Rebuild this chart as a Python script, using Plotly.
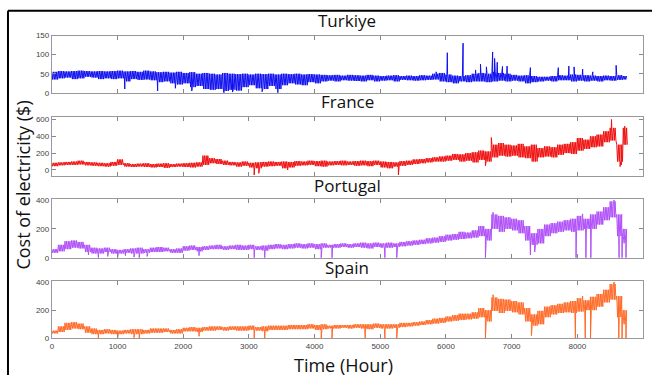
import plotly.graph_objects as go

# ---------------- data ----------------
bin_hours = list(range(0, 8800, 100))  # 88 bins, 100 h each
end_hour = 8760

tur_hi = [55,57,56,57,58,57,56,57,56,57, 58,56,57,55,58,56,54,55,53,55,
          52,54,50,52,50,48,52,50,49,50, 48,50,49,50,48,50,49,50,48,49,
          48,47,46,47,45,47,46,45,47,45, 44,45,46,44,45,44,46,45,50,52,
          48,45,44,46,50,52,50,55,52,50, 47,45,46,44,42,42,44,46,45,48,
          47,46,45,44,45,44,46,44]
tur_lo = [35,38,40,36,38,42,40,36,38,36, 38,30,36,34,35,33,28,30,25,22,
          25,15,18,10,8,10,5,8,6,15, 20,12,10,18,10,20,25,22,20,28,
          25,30,32,30,33,32,31,30,33,30, 32,33,30,34,33,32,33,34,35,30,
          28,25,30,28,30,30,28,30,32,30, 32,30,25,28,30,32,30,33,33,30,
          32,30,32,30,33,32,34,35]
tur_spk_h = [1110,1610,1880,2130,2620,2750,3200,3440,
             5850,6020,6260,6450,6525,6615,6710,6740,6780,6860,6930,7285,7710,7870,7950,8080,8235,8590]
tur_spk_v = [10,5,12,5,0,2,3,0,
             55,105,130,60,75,68,107,90,80,69,70,66,66,70,68,62,55,72]

fra_hi = [85,90,95,100,110,95,90,85,80,95, 125,80,70,75,80,70,75,80,70,75,
          80,85,90,170,140,130,110,95,90,100, 85,90,95,100,95,100,95,105,100,110,
          105,110,100,105,110,100,105,110,105,110, 100,95,90,105,110,125,130,140,150,160,
          170,190,185,200,210,230,220,300,320,300, 290,310,280,300,260,280,270,300,310,330,
          380,360,400,420,460,500,300,500]
fra_lo = [45,55,60,60,65,55,50,45,40,50, 60,40,35,40,35,30,35,25,35,40,
          35,30,40,60,80,70,60,55,40,50, 30,20,40,45,50,20,30,50,55,60,
          45,40,55,60,55,60,50,55,45,60, 30,20,40,50,60,70,80,90,100,100,
          110,120,100,110,90,120,100,150,170,160, 170,150,140,100,150,160,150,180,200,190,
          230,250,270,280,330,350,100,300]
fra_spk_h = [3080,3150,3590,5275,6600,6690,8520,8560,8620,8650,8670,8700,8720,8740,8760]
fra_spk_v = [-60,-40,0,-58,50,385,600,450,200,40,60,480,520,350,300]

por_hi = [60,90,115,120,110,90,70,65,70,60, 55,60,65,70,60,70,75,70,60,65,
          80,85,75,80,85,90,80,85,90,85, 90,80,85,90,95,90,95,100,95,100,
          95,100,90,95,100,95,100,105,100,105, 100,105,100,110,115,120,125,135,140,150,
          160,165,180,175,190,220,200,300,290,280, 270,260,220,170,200,230,240,250,260,270,
          290,270,300,320,350,390,300,200]
por_lo = [35,45,60,70,65,40,30,30,40,30, 30,35,30,30,35,40,40,45,35,35,
          50,55,45,55,60,60,55,60,55,55, 60,55,50,60,65,60,65,70,65,70,
          60,70,70,70,75,70,75,70,65,75, 70,70,75,80,85,90,95,100,105,110,
          120,125,130,135,140,150,120,200,180,200, 190,170,120,90,100,150,170,180,190,180,
          190,200,200,230,260,280,150,100]
por_spk_h = [557,708,850,1000,1120,1250,1330,1450,2240,3080,3240,4100,4265,5070,5250,
             6600,6715,7285,7350,7980,8080,8130,8205,8560,8635,8680,8700,8740]
por_spk_v = [20,0,10,0,15,5,0,10,15,0,0,0,0,0,0,
             0,315,20,40,0,304,0,0,400,0,0,150,0]

spa_hi = [55,85,110,115,105,85,70,60,65,60, 55,60,65,65,60,70,70,70,60,65,
          75,80,75,80,85,85,80,85,85,85, 90,80,85,90,90,90,95,95,95,100,
          95,100,90,95,95,95,100,100,100,105, 100,100,100,110,110,115,120,130,140,145,
          155,165,175,175,185,215,200,290,280,275, 265,255,215,170,195,225,235,245,255,265,
          285,270,295,315,345,385,300,200]
spa_lo = [35,45,60,70,65,40,30,30,35,30, 30,35,30,30,35,40,40,45,35,35,
          50,50,45,55,55,60,55,60,55,55, 60,55,50,60,60,60,65,65,65,70,
          60,65,70,70,75,70,75,70,65,75, 70,70,75,80,85,90,95,100,105,110,
          120,125,130,135,140,150,120,195,180,195, 185,170,120,90,100,150,170,180,185,180,
          190,200,200,225,255,275,150,100]
spa_spk_h = [708,1000,1250,1330,2240,3080,3240,4100,4265,4770,5070,5250,
             6600,6715,7300,7970,8080,8120,8200,8560,8630,8680,8700,8740]
spa_spk_v = [0,0,5,0,15,0,0,0,0,0,0,0,
             0,310,20,0,300,0,0,400,0,0,150,0]

countries = ["Turkiye", "France", "Portugal", "Spain"]
colors = ["#1010F0", "#F01010", "#B050F8", "#FF6A28"]
x_ticks = [0, 1000, 2000, 3000, 4000, 5000, 6000, 7000, 8000, 9000]
y_ticks = [[0, 50, 100, 150], [0, 200, 400, 600], [0, 200, 400], [0, 200, 400]]
y_ranges = [[0, 150], [-70, 630], [0, 405], [0, 405]]

series = [(tur_hi, tur_lo, tur_spk_h, tur_spk_v),
          (fra_hi, fra_lo, fra_spk_h, fra_spk_v),
          (por_hi, por_lo, por_spk_h, por_spk_v),
          (spa_hi, spa_lo, spa_spk_h, spa_spk_v)]


def build(hi, lo, sh, sv):
    pts = []
    for b, h0 in enumerate(bin_hours):
        for k in range(8):
            h = h0 + k * 12.5
            if h > end_hour:
                break
            pts.append((h, hi[b] if k % 2 == 0 else lo[b]))
    pts += [(h + 0.5, v) for h, v in zip(sh, sv)]
    pts.sort(key=lambda p: p[0])
    return [p[0] for p in pts], [p[1] for p in pts]


W, H = 652, 380
xl, xr = 50 / W, 643 / W
doms = [(32.3, 91), (115.7, 176), (200, 260), (284, 342.5)]
title_y = [17, 100, 186, 270]

fig = go.Figure()
layout = dict(width=W, height=H, margin=dict(l=0, r=0, t=0, b=0),
              paper_bgcolor="white", plot_bgcolor="white", showlegend=False)
annotations = []
for i, (name, col, (hi, lo, sh, sv)) in enumerate(zip(countries, colors, series)):
    xs, ys = build(hi, lo, sh, sv)
    ax = "" if i == 0 else str(i + 1)
    fig.add_trace(go.Scatter(x=xs, y=ys, mode="lines",
                             line=dict(color=col, width=1, simplify=False),
                             xaxis="x" + ax, yaxis="y" + ax, hoverinfo="skip"))
    top, bot = doms[i]
    layout["xaxis" + ax] = dict(domain=[xl, xr], range=[0, 9000], anchor="y" + ax,
                                tickvals=x_ticks, showticklabels=(i == 3),
                                ticks="inside", ticklen=4, tickcolor="#888",
                                showline=True, linecolor="#999", linewidth=1, mirror="ticks",
                                showgrid=False, zeroline=False,
                                tickfont=dict(size=8, color="#444", family="Arial"))
    layout["yaxis" + ax] = dict(domain=[1 - bot / H, 1 - top / H], range=y_ranges[i],
                                anchor="x" + ax, tickvals=y_ticks[i],
                                ticks="inside", ticklen=4, tickcolor="#888",
                                showline=True, linecolor="#999", linewidth=1, mirror="ticks",
                                showgrid=False, zeroline=False,
                                tickfont=dict(size=8, color="#444", family="Arial"))
    annotations.append(dict(text=name, x=(xl + xr) / 2, y=1 - title_y[i] / H,
                            xref="paper", yref="paper", showarrow=False,
                            xanchor="center", yanchor="middle",
                            font=dict(size=17, color="#111", family="Open Sans")))

annotations.append(dict(text="Cost of electricity ($)", x=21 / W, y=1 - 185 / H,
                        xref="paper", yref="paper", showarrow=False, textangle=-90,
                        xanchor="center", yanchor="middle",
                        font=dict(size=18, color="#111", family="Open Sans")))
annotations.append(dict(text="Time (Hour)", x=343 / W, y=1 - 370 / H,
                        xref="paper", yref="paper", showarrow=False,
                        xanchor="center", yanchor="middle",
                        font=dict(size=18, color="#111", family="Open Sans")))
layout["annotations"] = annotations
layout["shapes"] = [
    dict(type="line", xref="paper", yref="paper", x0=6 / W, x1=1, y0=1 - 7 / H, y1=1 - 7 / H,
         line=dict(color="black", width=2)),
    dict(type="line", xref="paper", yref="paper", x0=6 / W, x1=6 / W, y0=0, y1=1 - 7 / H,
         line=dict(color="black", width=2)),
]
fig.update_layout(**layout)
fig.write_html("out.html")
